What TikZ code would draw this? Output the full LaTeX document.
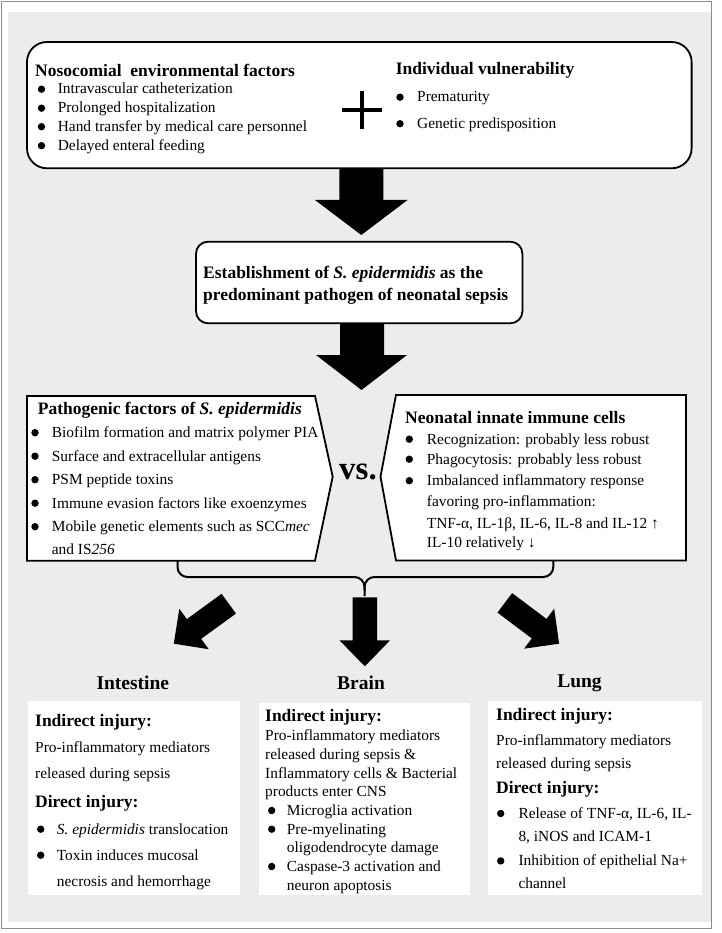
\documentclass[tikz,border=0pt]{standalone}
\usepackage{fontspec}
\setmainfont{Liberation Serif}
\definecolor{bggray}{RGB}{236,236,236}
\definecolor{framegray}{RGB}{140,140,140}
\newcommand\bul[2]{\fill (#1,{#2-4.8}) circle (3.7pt);}
\begin{document}
\begin{tikzpicture}[x=1pt,y=-1pt,
  txt/.style={anchor=base west, inner sep=0pt, font=\fontsize{15.4}{18}\selectfont},
  hd/.style={anchor=base west, inner sep=0pt, font=\fontsize{17.5}{20}\selectfont\bfseries},
  org/.style={anchor=base, inner sep=0pt, font=\fontsize{19.5}{22}\selectfont\bfseries},
  boxline/.style={draw=black, line width=1.8pt, fill=white},
  blockarrow/.style={fill=black}]
\useasboundingbox (0,0) rectangle (721,933);
\fill[white] (0,0) rectangle (721,933);
\fill[bggray] (8,12) rectangle (711,922);
\draw[framegray, line width=1.4pt] (1.7,1.7) rectangle (711.5,928.3);

% ---------- top box ----------
\draw[boxline, rounded corners=20pt] (27,42) rectangle (691.6,168.3);
\node[hd] (n0) at (35,77) {Nosocomial\ \ environmental factors};
\bul{41.5}{94}   \node[txt] (n1) at (57.6,94) {Intravascular catheterization};
\bul{41.5}{113}  \node[txt] (n2) at (57.6,113) {Prolonged hospitalization};
\bul{41.5}{131.5}\node[txt] (n3) at (57.6,131.5) {Hand transfer by medical care personnel};
\bul{41.5}{150.5}\node[txt] (n4) at (57.6,150.5) {Delayed enteral feeding};
\fill (342,108) rectangle (382,112);
\fill (360,91) rectangle (364,129);
\node[hd] (v0) at (395.6,75) {Individual vulnerability};
\bul{400}{102}   \node[txt] (v1) at (417,102) {Prematurity};
\bul{400}{128.5} \node[txt] (v2) at (417,128.5) {Genetic predisposition};

% arrow 1
\fill[blockarrow] (339.3,168.3) -- (339.3,200) -- (315,200) -- (361.3,235) -- (407.5,200) -- (383.3,200) -- (383.3,168.3) -- cycle;

% ---------- establishment box ----------
\draw[boxline, rounded corners=12pt] (196,241.7) rectangle (522.4,323.3);
\node[hd] (e1) at (203,278) {Establishment of \textit{S. epidermidis} as the};
\node[hd] (e2) at (203,300) {predominant pathogen of neonatal sepsis};

% arrow 2
\fill[blockarrow] (340,323.3) -- (340,355) -- (316,355) -- (361.5,390) -- (407,355) -- (384,355) -- (384,323.3) -- cycle;

% ---------- pathogenic factors ----------
\draw[boxline] (27,396) -- (315,396) -- (332.7,476.7) -- (315,560.7) -- (27,560.7) -- cycle;
\node[hd] (p0) at (37.7,414) {Pathogenic factors of \textit{S. epidermidis}};
\bul{35}{437.5} \node[txt] (p1) at (51.7,437.5) {Biofilm formation and matrix polymer PIA};
\bul{35}{461}   \node[txt] (p2) at (51.7,461) {Surface and extracellular antigens};
\bul{35}{484.5} \node[txt] (p3) at (51.7,484.5) {PSM peptide toxins};
\bul{35}{508}   \node[txt] (p4) at (51.7,508) {Immune evasion factors like exoenzymes};
\bul{35}{531.5} \node[txt] (p5) at (51.7,531.5) {Mobile genetic elements such as SCC\textit{mec}};
\node[txt] (p6) at (51.7,554) {and IS\textit{256}};

\node[anchor=base west, inner sep=0pt, font=\fontsize{33}{36}\selectfont\bfseries] (vs) at (339,479) {vs.};

% ---------- immune cells ----------
\draw[boxline] (396,395) -- (686,395) -- (686,560.5) -- (396,560.5) -- (380.5,476.7) -- cycle;
\node[hd] (i0) at (405,423) {Neonatal innate immune cells};
\bul{409.3}{444}   \node[txt] (i1) at (426.7,444) {Recognization: probably less robust};
\bul{409.3}{464}   \node[txt] (i2) at (426.7,464) {Phagocytosis: probably less robust};
\bul{409.3}{485.5} \node[txt] (i3) at (426.7,485.5) {Imbalanced inflammatory response};
\node[txt] (i4) at (426.7,506.5) {favoring pro-inflammation:};
\node[txt] (i5) at (426.7,528) {TNF-α, IL-1β, IL-6, IL-8 and IL-12 ↑};
\node[txt] (i6) at (426.7,547.5) {IL-10 relatively ↓};

% ---------- brace ----------
\draw[line width=2pt, rounded corners=10pt] (177.5,560.7) -- (177.5,577) -- (364.5,577) -- (364.5,596);
\draw[line width=2pt, rounded corners=10pt] (553.3,560.5) -- (553.3,577) -- (364.5,577) -- (364.5,590);

% ---------- three arrows ----------
\fill[blockarrow, shift={(228.8,603.7)}, rotate=216] (0,-12.2) -- (43,-12.2) -- (43,-25) -- (68,0) -- (43,25) -- (43,12.2) -- (0,12.2) -- cycle;
\fill[blockarrow, shift={(364.8,597.3)}, rotate=-90] (0,-12.2) -- (43,-12.2) -- (43,-25.3) -- (69,0) -- (43,25.3) -- (43,12.2) -- (0,12.2) -- cycle;
\fill[blockarrow, shift={(504.8,602.8)}, rotate=-37] (0,-12.2) -- (43,-12.2) -- (43,-25) -- (68,0) -- (43,25) -- (43,12.2) -- (0,12.2) -- cycle;

\node[org] (intes) at (132.8,689) {Intestine};
\node[org] (brain) at (361,689.5) {Brain};
\node[org] (lung) at (579.5,687) {Lung};

% ---------- bottom boxes ----------
\fill[white] (28.3,700.7) rectangle (240,895);
\fill[white] (259.3,702.7) rectangle (470,895);
\fill[white] (488.3,700.7) rectangle (701.7,895);

\node[hd] (a0) at (35,726) {Indirect injury:};
\node[txt] (a1) at (35,752) {Pro-inflammatory mediators};
\node[txt] (a2) at (35,778.3) {released during sepsis};
\node[hd] (a3) at (35,807.7) {Direct injury:};
\bul{40.7}{834} \node[txt] (a4) at (56.7,834) {\textit{S. epidermidis} translocation};
\bul{40.7}{860} \node[txt] (a5) at (56.7,860) {Toxin induces mucosal};
\node[txt] (a6) at (56.7,886.5) {necrosis and hemorrhage};

\node[hd] (b0) at (265,721.7) {Indirect injury:};
\node[txt] (b1) at (265,740.7) {Pro-inflammatory mediators};
\node[txt] (b2) at (265,759.3) {released during sepsis \&};
\node[txt] (b3) at (265,778) {Inflammatory cells \& Bacterial};
\node[txt] (b4) at (265,796.7) {products enter CNS};
\bul{271.7}{815.3} \node[txt] (b5) at (286.7,815.3) {Microglia activation};
\bul{271.7}{834}   \node[txt] (b6) at (286.7,834) {Pre-myelinating};
\node[txt] (b7) at (286.7,852.7) {oligodendrocyte damage};
\bul{271.7}{871.3} \node[txt] (b8) at (286.7,871.3) {Caspase-3 activation and};
\node[txt] (b9) at (286.7,890) {neuron apoptosis};

\node[hd] (c0) at (496,720.7) {Indirect injury:};
\node[txt] (c1) at (496,745) {Pro-inflammatory mediators};
\node[txt] (c2) at (496,768.3) {released during sepsis};
\node[hd] (c3) at (496,793.3) {Direct injury:};
\bul{500.7}{818.3} \node[txt] (c4) at (518.3,818.3) {Release of TNF-α, IL-6, IL-};
\node[txt] (c5) at (518.3,841.7) {8, iNOS and ICAM-1};
\bul{500.7}{865.7} \node[txt] (c6) at (518.3,865.7) {Inhibition of epithelial Na+};
\node[txt] (c7) at (518.3,888.3) {channel};
\end{tikzpicture}
\end{document}
